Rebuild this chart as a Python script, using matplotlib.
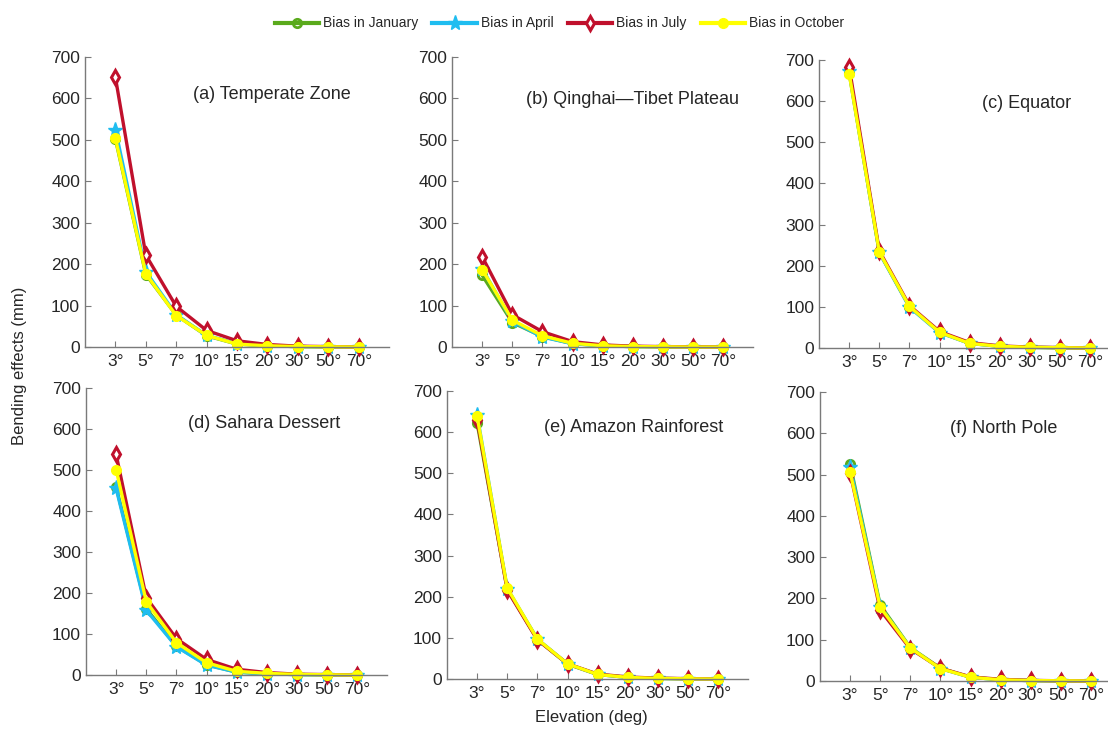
import matplotlib
matplotlib.use("Agg")
import matplotlib.pyplot as plt
from matplotlib.lines import Line2D

plt.rcParams["font.family"] = ["Liberation Sans", "DejaVu Sans"]

elevations = ["3°", "5°", "7°", "10°", "15°", "20°", "30°", "50°", "70°"]
months = ["January", "April", "July", "October"]

# bending effect (mm) per region, one list per month, following the elevation order
temperate = {
    "January": [502, 175, 77, 27, 7, 3, 1, 0.5, 0],
    "April": [525, 182, 78, 28, 8, 3, 1, 0.5, 0],
    "July": [651, 222, 98, 40, 15, 6, 2, 1, 0],
    "October": [504, 177, 76, 28, 7, 3, 1, 0.5, 0],
}
qinghai_tibet = {
    "January": [173, 59, 25, 8, 3, 1, 0.5, 0, 0],
    "April": [189, 62, 24, 8, 3, 1, 0.5, 0, 0],
    "July": [218, 78, 37, 13, 5, 2, 1, 0.5, 0],
    "October": [187, 65, 27, 9, 3, 1, 0.5, 0, 0],
}
equator = {
    "January": [668, 232, 100, 38, 11, 4, 1.5, 0.5, 0],
    "April": [672, 232, 99, 37, 11, 4, 1.5, 0.5, 0],
    "July": [683, 236, 103, 40, 13, 5, 2, 1, 0],
    "October": [667, 233, 101, 38, 11, 4, 1.5, 0.5, 0],
}
sahara = {
    "January": [459, 162, 70, 25, 7, 3, 1, 0.5, 0],
    "April": [455, 158, 69, 24, 7, 3, 1, 0.5, 0],
    "July": [538, 189, 89, 38, 14, 6, 2, 1, 0],
    "October": [501, 179, 79, 30, 9, 4, 1.5, 0.5, 0],
}
amazon = {
    "January": [622, 218, 96, 36, 11, 4, 1.5, 0.5, 0],
    "April": [642, 220, 97, 37, 11, 4, 1.5, 0.5, 0],
    "July": [630, 216, 95, 37, 12, 5, 2, 1, 0],
    "October": [639, 221, 97, 37, 11, 4, 1.5, 0.5, 0],
}
north_pole = {
    "January": [526, 184, 81, 31, 9, 3, 1, 0.5, 0],
    "April": [519, 180, 80, 30, 9, 3, 1, 0.5, 0],
    "July": [505, 172, 78, 31, 10, 4, 1.5, 0.5, 0],
    "October": [507, 179, 80, 30, 9, 3, 1, 0.5, 0],
}

panels = [
    ("(a) Temperate Zone", temperate),
    ("(b) Qinghai\u2014Tibet Plateau", qinghai_tibet),
    ("(c) Equator", equator),
    ("(d) Sahara Dessert", sahara),
    ("(e) Amazon Rainforest", amazon),
    ("(f) North Pole", north_pole),
]

styles = {
    "January": dict(color="#5aaa1c", marker="o", mfc="none", ms=6, mew=2),
    "April": dict(color="#1fbdf0", marker="*", mfc="#1fbdf0", ms=11, mew=1),
    "July": dict(color="#c0102c", marker="d", mfc="white", ms=7.5, mew=2.2),
    "October": dict(color="#ffff00", marker="o", mfc="#ffff00", ms=7, mew=1),
}

# [left, bottom, width, height] for each panel
positions = [
    [0.0767, 0.5253, 0.2745, 0.3967],
    [0.4080, 0.5253, 0.2720, 0.3967],
    [0.7392, 0.5240, 0.2720, 0.3940],
    [0.0776, 0.0766, 0.2720, 0.3926],
    [0.4034, 0.0711, 0.2720, 0.3940],
    [0.7400, 0.0684, 0.2720, 0.3953],
]
title_pos = [(0.615, 0.87), (0.60, 0.855), (0.69, 0.85),
             (0.59, 0.875), (0.62, 0.875), (0.61, 0.875)]

axis_gray = "#7a7a7a"
text_gray = "#262626"

fig = plt.figure(figsize=(11.08, 7.31), dpi=100)
x = list(range(1, len(elevations) + 1))

for (title, data), pos, tp in zip(panels, positions, title_pos):
    ax = fig.add_axes(pos)
    for m in months:
        ax.plot(x, data[m], lw=2.4, clip_on=False, **styles[m])
    ax.set_xlim(0, 10)
    ax.set_ylim(0, 700)
    ax.set_xticks(x)
    ax.set_xticklabels(elevations)
    ax.set_yticks(range(0, 701, 100))
    ax.tick_params(direction="in", length=4, colors=axis_gray,
                   labelcolor=text_gray, labelsize=12.5)
    ax.tick_params(axis="x", pad=5)
    for side in ("top", "right"):
        ax.spines[side].set_visible(False)
    for side in ("left", "bottom"):
        ax.spines[side].set_color(axis_gray)
        ax.spines[side].set_linewidth(1.0)
    ax.text(tp[0], tp[1], title, transform=ax.transAxes, ha="center",
            va="center", fontsize=13, color=text_gray)

fig.text(0.018, 0.50, "Bending effects (mm)", rotation=90, ha="center",
         va="center", fontsize=12, color=text_gray)
fig.text(0.534, 0.018, "Elevation (deg)", ha="center", va="center",
         fontsize=12, color=text_gray)

handles = [Line2D([], [], lw=3, **styles[m]) for m in months]
fig.legend(handles, [f"Bias in {m}" for m in months], loc="center",
           bbox_to_anchor=(0.505, 0.968), ncol=4, frameon=False, fontsize=10,
           handlelength=3.2, columnspacing=1.0, handletextpad=0.3,
           labelcolor=text_gray)

fig.savefig("out.png", dpi=100)
